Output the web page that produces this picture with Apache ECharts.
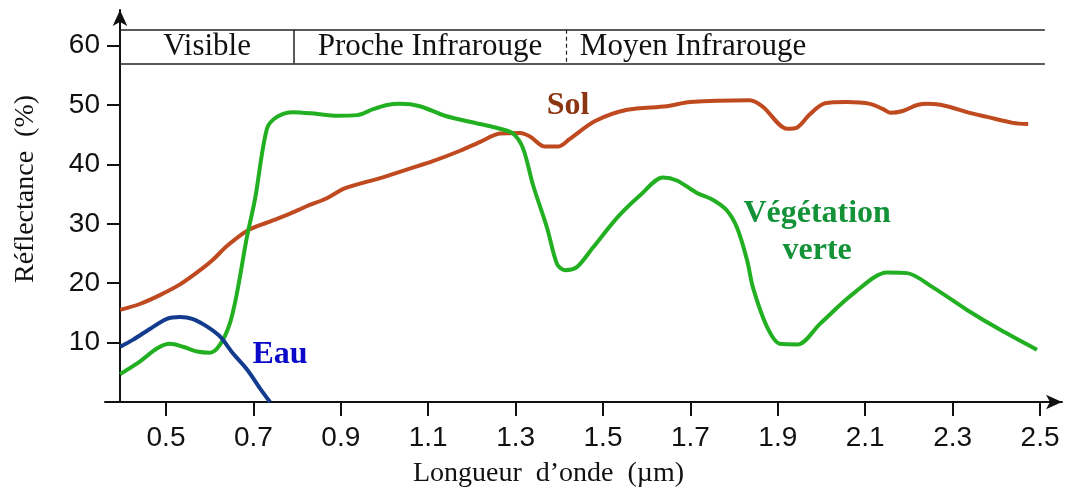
<!DOCTYPE html>
<html>
<head>
<meta charset="utf-8">
<script src="https://cdn.jsdelivr.net/npm/echarts@6/dist/echarts.min.js"></script>
<style>
  html, body { margin: 0; padding: 0; background: #fff; }
  #main { width: 1065px; height: 493px; }
</style>
</head>
<body>
<div id="main"></div>
<script>
// reflectance curves, [wavelength µm, reflectance %]
var eau = [[0.395,9.3],[0.425,10.5],[0.463,12.3],[0.502,14],[0.532,14.3],[0.56,14],[0.594,12.7],
  [0.624,11],[0.653,8.2],[0.685,5.5],[0.715,2.3],[0.738,0]];

var vegetation = [[0.395,4.7],[0.44,6.8],[0.479,9],[0.509,9.8],[0.539,9.3],[0.571,8.5],[0.601,8.3],
  [0.624,9.7],[0.646,13.2],[0.662,18.2],[0.685,27.7],[0.704,34.3],[0.731,46],[0.754,48],[0.791,48.8],
  [0.846,48.5],[0.891,48.2],[0.937,48.3],[0.974,49.3],[1.006,50],[1.035,50.2],[1.081,49.8],[1.138,48.2],
  [1.219,46.8],[1.264,46],[1.294,45.2],[1.317,42.7],[1.34,36.5],[1.372,29.3],[1.395,23.2],[1.413,22.2],
  [1.44,22.7],[1.477,26],[1.532,31],[1.585,34.8],[1.637,37.8],[1.669,37.3],[1.715,35.2],[1.752,34],
  [1.784,32.2],[1.807,29.3],[1.83,23.8],[1.843,19.3],[1.875,12.7],[1.905,9.8],[1.946,9.7],[1.997,13.2],
  [2.072,18.2],[2.15,21.8],[2.196,21.7],[2.255,19.3],[2.333,15.5],[2.408,12.2],[2.493,8.8]];

var sol = [[0.395,15.5],[0.44,16.5],[0.486,18],[0.532,19.8],[0.578,22.2],[0.608,24],[0.64,26.3],
  [0.685,28.8],[0.731,30.2],[0.777,31.5],[0.823,33],[0.868,34.3],[0.91,36],[0.99,37.7],[1.058,39.3],
  [1.109,40.5],[1.173,42.3],[1.219,43.8],[1.264,45.2],[1.31,45.3],[1.333,44.7],[1.367,43],[1.397,43],
  [1.424,44.3],[1.482,47.3],[1.555,49.2],[1.646,49.8],[1.699,50.5],[1.836,50.8],[1.866,49.7],
  [1.921,46],[1.944,46.2],[1.974,48.5],[2.008,50.3],[2.058,50.5],[2.111,50.2],[2.141,49.3],
  [2.157,48.7],[2.186,49],[2.219,50],[2.244,50.2],[2.287,49.8],[2.333,48.8],[2.379,48],[2.438,47],[2.473,46.8]];

var xTicks = [0.5, 0.7, 0.9, 1.1, 1.3, 1.5, 1.7, 1.9, 2.1, 2.3, 2.5];
var yTicks = [10, 20, 30, 40, 50, 60];

// spectral domains shown in the band at the top
var domainNames = ['Visible', 'Proche Infrarouge', 'Moyen Infrarouge'];
var domainEdges = [0.395, 0.793, 1.415, 2.511];
var bandLow = 57, bandHigh = 62.67;

// curve labels [wavelength, reflectance]
var eauLabelAt = [0.761, 8];
var solLabelAt = [1.42, 49.8];
var vegLabelAt = [1.99, 28.5];

var chart = echarts.init(document.getElementById('main'));

var bandLines = [
  [{coord: [domainEdges[0], bandHigh]}, {coord: [domainEdges[3], bandHigh]}],
  [{coord: [domainEdges[0], bandLow]}, {coord: [domainEdges[3], bandLow]}],
  [{coord: [domainEdges[1], bandHigh]}, {coord: [domainEdges[1], bandLow]}],
  [{coord: [domainEdges[2], bandHigh], lineStyle: {type: [4, 3], width: 1.2}}, {coord: [domainEdges[2], bandLow]}]
];

var bandAreas = domainNames.map(function (name, i) {
  var last = i === domainNames.length - 1;
  return [
    {name: name, coord: [domainEdges[i], bandHigh],
      label: last ? {position: 'insideLeft', distance: 14} : {position: 'inside'}},
    {coord: [domainEdges[i + 1], bandLow]}
  ];
});

var serif = '"Liberation Serif", "Times New Roman", serif';
var sans = '"Liberation Sans", Arial, sans-serif';

function curveLabel(at, text, color) {
  return {
    symbol: 'circle',
    symbolSize: 1,
    silent: true,
    itemStyle: {color: 'rgba(0,0,0,0)'},
    data: [{name: text, coord: at}],
    label: {
      show: true, position: 'inside', formatter: text,
      color: color, fontFamily: serif, fontWeight: 'bold', fontSize: 32, lineHeight: 37, align: 'center'
    }
  };
}

chart.setOption({
  animation: false,
  grid: {left: 105, right: 3, top: 10, bottom: 86},
  xAxis: {
    type: 'value',
    min: 0.3604,
    max: 2.5503,
    splitLine: {show: false},
    axisLine: {show: true, symbol: ['none', 'arrow'], symbolSize: [11, 16], lineStyle: {color: '#111', width: 2}},
    axisTick: {show: true, customValues: xTicks, length: 14, inside: false, lineStyle: {color: '#111', width: 2}},
    axisLabel: {customValues: xTicks, margin: 22, fontSize: 28, fontFamily: sans, color: '#111',
      formatter: function (v) { return v.toFixed(1); }},
    name: "Longueur  d\u2019onde  (\u00b5m)",
    nameLocation: 'middle',
    nameGap: 58,
    nameTextStyle: {fontFamily: serif, fontSize: 28, color: '#111', padding: [0, 70, 0, 0]}
  },
  yAxis: {
    type: 'value',
    min: 0,
    max: 66,
    offset: -15,
    splitLine: {show: false},
    axisLine: {show: true, symbol: ['none', 'arrow'], symbolSize: [11, 16], lineStyle: {color: '#111', width: 2}},
    axisTick: {show: true, customValues: yTicks, length: 13, lineStyle: {color: '#111', width: 2}},
    axisLabel: {customValues: yTicks, margin: 20, fontSize: 28, fontFamily: sans, color: '#111'},
    name: 'R\u00e9flectance  (%)',
    nameLocation: 'middle',
    nameGap: 80,
    nameRotate: 90,
    nameTextStyle: {fontFamily: serif, fontSize: 28, color: '#111', padding: [0, 0, 0, 34]}
  },
  series: [
    {
      name: 'Sol',
      type: 'line',
      data: sol,
      showSymbol: false,
      smooth: 0.3,
      lineStyle: {color: '#C04A20', width: 4},
      markLine: {
        silent: true,
        symbol: ['none', 'none'],
        label: {show: false},
        lineStyle: {color: '#222', width: 1.5, type: 'solid'},
        data: bandLines
      },
      markArea: {
        silent: true,
        itemStyle: {color: 'rgba(0,0,0,0)'},
        label: {show: true, color: '#111', fontFamily: serif, fontSize: 31},
        data: bandAreas
      },
      markPoint: curveLabel(solLabelAt, 'Sol', '#8B3512')
    },
    {
      name: 'V\u00e9g\u00e9tation verte',
      type: 'line',
      data: vegetation,
      showSymbol: false,
      smooth: 0.3,
      lineStyle: {color: '#22B022', width: 4},
      markPoint: curveLabel(vegLabelAt, 'V\u00e9g\u00e9tation\nverte', '#139238')
    },
    {
      name: 'Eau',
      type: 'line',
      data: eau,
      showSymbol: false,
      smooth: 0.3,
      lineStyle: {color: '#143C8E', width: 4},
      markPoint: curveLabel(eauLabelAt, 'Eau', '#0A0AC8')
    }
  ]
});
</script>
</body>
</html>
